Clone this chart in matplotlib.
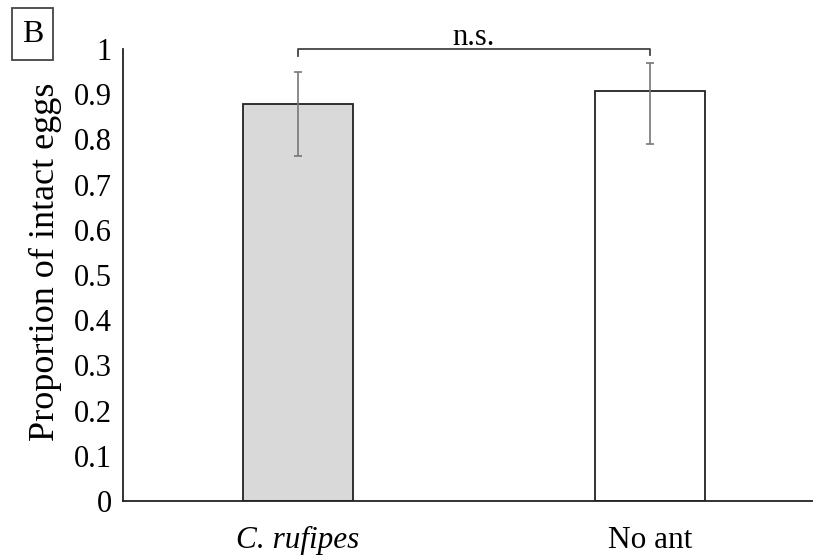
import numpy as np
import matplotlib
matplotlib.use("Agg")
import matplotlib.pyplot as plt
from matplotlib.patches import Rectangle

plt.rcParams['font.family'] = ['Liberation Serif', 'DejaVu Serif']

categories = ['C. rufipes', 'No ant']
means = [0.878, 0.908]
err_low = [0.115, 0.118]
err_high = [0.071, 0.062]
colors = ['#d9d9d9', 'white']
yticks = [0, 0.1, 0.2, 0.3, 0.4, 0.5, 0.6, 0.7, 0.8, 0.9, 1]
ytick_labels = ['0', '0.1', '0.2', '0.3', '0.4', '0.5', '0.6', '0.7', '0.8', '0.9', '1']

fig = plt.figure(figsize=(8.13, 5.56), dpi=100)
ax = fig.add_axes([0.1513, 0.0989, 0.8487, 0.813])

x = np.arange(len(categories))
ax.bar(x, means, width=0.31, color=colors, edgecolor='#222222', linewidth=1.3, zorder=2)
ax.errorbar(x, means, yerr=[err_low, err_high], fmt='none', ecolor='#777777',
            elinewidth=1.2, capsize=3, capthick=1.2, zorder=3)

# significance bracket
ax.plot([x[0], x[0], x[1], x[1]], [0.984, 1.0, 1.0, 0.986], color='#444444', lw=1.3,
        clip_on=False)
ax.text((x[0] + x[1]) / 2, 1.009, 'n.s.', ha='center', va='baseline', fontsize=22)

ax.set_xlim(-0.497, 1.463)
ax.set_ylim(0, 1)
ax.set_yticks(yticks)
ax.set_yticklabels(ytick_labels, fontsize=22)
ax.set_xticks(x)
ax.set_xticklabels(categories, fontsize=22.5)
ax.get_xticklabels()[0].set_style('italic')
ax.tick_params(axis='both', length=0)
ax.tick_params(axis='y', pad=8)
ax.tick_params(axis='x', pad=18)
ax.set_ylabel('Proportion of intact eggs', fontsize=26)
ax.yaxis.set_label_coords(-0.089, 0.529)

for s in ['top', 'right']:
    ax.spines[s].set_visible(False)
for s in ['left', 'bottom']:
    ax.spines[s].set_color('#222222')
    ax.spines[s].set_linewidth(1.3)

# panel letter box
fig.patches.append(Rectangle((12 / 813, 1 - 60 / 556), 41 / 813, 52 / 556,
                             transform=fig.transFigure, facecolor='white',
                             edgecolor='#444444', lw=1.3))
fig.text(32.5 / 813, 1 - 35 / 556, 'B', fontsize=23, ha='center', va='center')

fig.savefig('out.png', dpi=100)
